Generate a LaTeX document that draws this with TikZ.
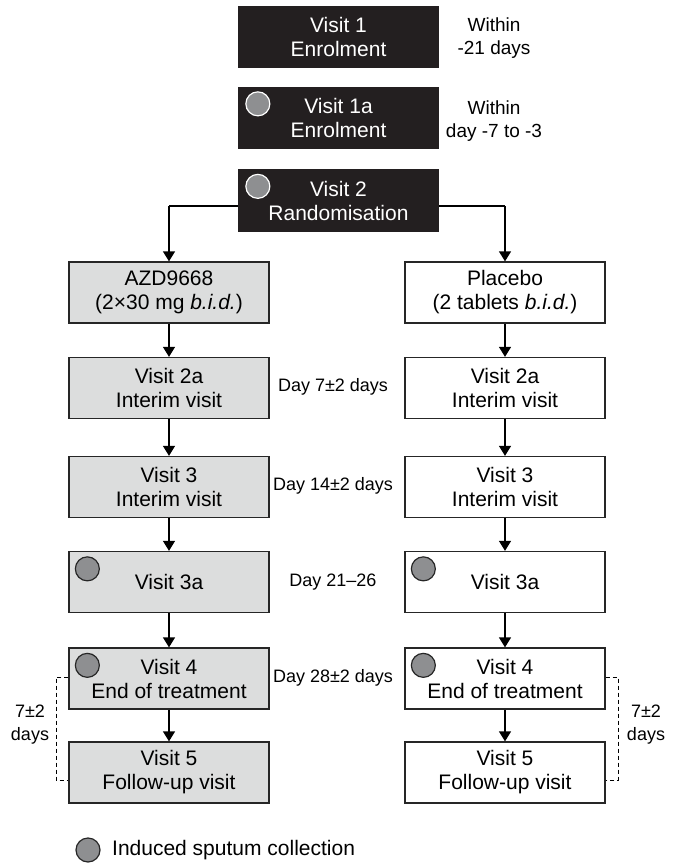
\documentclass[tikz,border=0pt]{standalone}
\usepackage{fontspec}
\setmainfont{Liberation Sans}
\usetikzlibrary{arrows.meta,calc}
\definecolor{boxblack}{HTML}{231F20}
\definecolor{boxgray}{HTML}{DCDDDD}
\definecolor{dotgray}{HTML}{8E8F91}
\begin{document}
\begin{tikzpicture}[x=1pt,y=-1pt,
  base/.style={minimum width=200pt,minimum height=61pt,inner sep=0pt,align=center,
    font=\fontsize{21}{24}\selectfont,line width=1.3pt},
  blackbox/.style={base,fill=boxblack,draw=boxblack,text=white},
  graybox/.style={base,fill=boxgray,draw=black!85},
  whitebox/.style={base,fill=white,draw=black!85},
  side/.style={font=\fontsize{18}{23}\selectfont,align=center,inner sep=0pt},
  note/.style={font=\fontsize{19}{23}\selectfont,align=center,inner sep=0pt},
  conn/.style={line width=1.3pt,-{Triangle[width=12pt,length=10pt]}},
  dotb/.style={fill=dotgray,draw=white,line width=1.2pt},
  dotw/.style={fill=dotgray,draw=black!85,line width=1.2pt},
  bracket/.style={dashed,line width=1pt,dash pattern=on 4pt off 3pt}]
\useasboundingbox (0,0) rectangle (676,864);

% top column
\node[blackbox] (v1) at (338.5,37) {Visit 1\\Enrolment};
\node[blackbox] (v1a) at (338.5,118) {Visit 1a\\Enrolment};
\coordinate (splitL) at (169,206);
\coordinate (splitR) at (505,206);
\draw[line width=1.3pt] (splitL) -- (splitR);
\node[blackbox] (v2) at (338.5,200.5) {Visit 2\\Randomisation};
\draw[dotb] ($(v1a.north west)+(20,17)$) circle (12);
\draw[dotb] ($(v2.north west)+(20,17)$) circle (12);

\node[note] (w1) at (494,38) {Within\\-21 days};
\node[note] (w2) at (494,121) {Within\\day -7 to -3};

% left column
\node[graybox] (a0) at (169,292.5) {AZD9668\\(2×30 mg \textit{b.i.d.})};
\node[graybox] (a1) at (169,388) {Visit 2a\\Interim visit};
\node[graybox] (a2) at (169,487) {Visit 3\\Interim visit};
\node[graybox] (a3) at (169,582) {Visit 3a};
\node[graybox] (a4) at (169,678.5) {Visit 4\\End of treatment};
\node[graybox] (a5) at (169,772.5) {Visit 5\\Follow-up visit};

% right column
\node[whitebox] (p0) at (505,292.5) {Placebo\\(2 tablets \textit{b.i.d.})};
\node[whitebox] (p1) at (505,388) {Visit 2a\\Interim visit};
\node[whitebox] (p2) at (505,487) {Visit 3\\Interim visit};
\node[whitebox] (p3) at (505,582) {Visit 3a};
\node[whitebox] (p4) at (505,678.5) {Visit 4\\End of treatment};
\node[whitebox] (p5) at (505,772.5) {Visit 5\\Follow-up visit};

\foreach \n in {a3,a4,p3,p4}{\draw[dotw] ($(\n.north west)+(19,18)$) circle (12);}

% connectors
\draw[conn] (splitL) -- (a0);
\draw[conn] (splitR) -- (p0);
\draw[conn] (a0) -- (a1);
\draw[conn] (a1) -- (a2);
\draw[conn] (a2) -- (a3);
\draw[conn] (a3) -- (a4);
\draw[conn] (a4) -- (a5);
\draw[conn] (p0) -- (p1);
\draw[conn] (p1) -- (p2);
\draw[conn] (p2) -- (p3);
\draw[conn] (p3) -- (p4);
\draw[conn] (p4) -- (p5);

% day labels
\node[side] (d1) at (333,387) {Day 7±2 days};
\node[side] (d2) at (333,486) {Day 14±2 days};
\node[side] (d3) at (333,582) {Day 21–26};
\node[side] (d4) at (333,678) {Day 28±2 days};

% brackets
\coordinate (lbt) at (56,677);
\coordinate (lbb) at (56,780);
\draw[bracket] (a4.west |- lbt) -- (lbt) -- (lbb) -- (a5.west |- lbb);
\node[side] (lt) at (30,725) {7±2\\days};
\coordinate (rbt) at (618,677);
\coordinate (rbb) at (618,780);
\draw[bracket] (p4.east |- rbt) -- (rbt) -- (rbb) -- (p5.east |- rbb);
\node[side] (rt) at (646,725) {7±2\\days};

% legend
\draw[dotw] (88,850) circle (12) coordinate (leg);
\node[anchor=west,inner sep=0pt,font=\fontsize{21}{24}\selectfont] (legt) at (112,850) {Induced sputum collection};
\end{tikzpicture}
\end{document}
